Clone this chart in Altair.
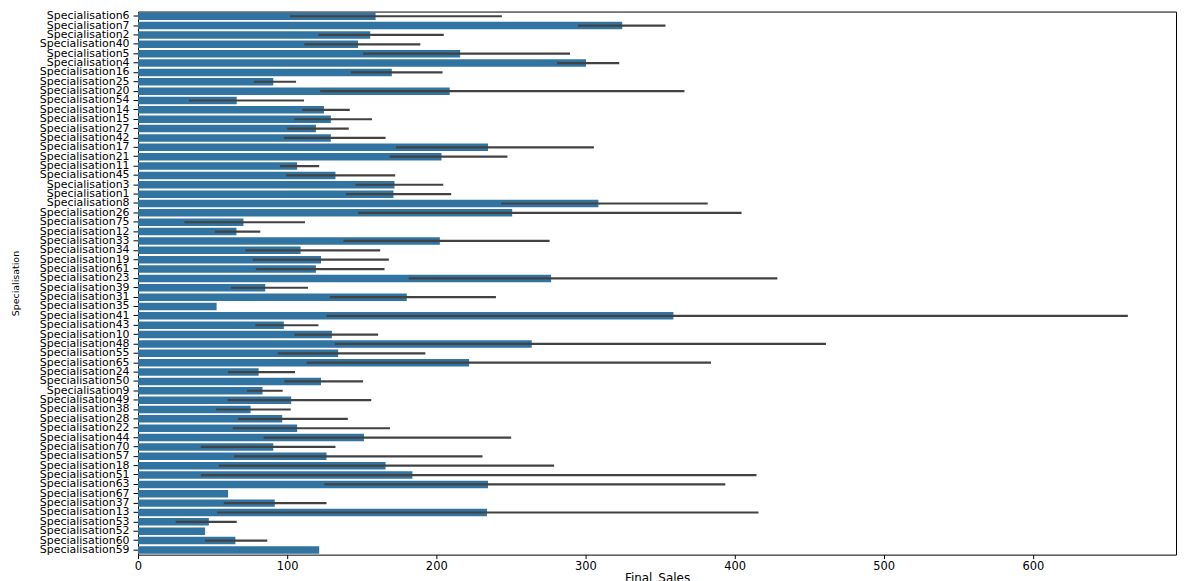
import altair as alt
import pandas as pd

categories = ["Specialisation6", "Specialisation7", "Specialisation2", "Specialisation40",
              "Specialisation5", "Specialisation4", "Specialisation16", "Specialisation25",
              "Specialisation20", "Specialisation54", "Specialisation14", "Specialisation15",
              "Specialisation27", "Specialisation42", "Specialisation17", "Specialisation21",
              "Specialisation11", "Specialisation45", "Specialisation3", "Specialisation1",
              "Specialisation8", "Specialisation26", "Specialisation75", "Specialisation12",
              "Specialisation33", "Specialisation34", "Specialisation19", "Specialisation61",
              "Specialisation23", "Specialisation39", "Specialisation31", "Specialisation35",
              "Specialisation41", "Specialisation43", "Specialisation10", "Specialisation48",
              "Specialisation55", "Specialisation65", "Specialisation24", "Specialisation50",
              "Specialisation9", "Specialisation49", "Specialisation38", "Specialisation28",
              "Specialisation22", "Specialisation44", "Specialisation70", "Specialisation57",
              "Specialisation18", "Specialisation51", "Specialisation63", "Specialisation67",
              "Specialisation37", "Specialisation13", "Specialisation53", "Specialisation52",
              "Specialisation60", "Specialisation59"]

mean_sales = [159.3, 324.7, 155.7, 147.5, 216.0, 300.4, 170.2, 90.7,
              209.0, 66.2, 124.7, 129.3, 119.3, 129.3, 234.7, 203.5,
              106.7, 132.4, 172.0, 171.3, 308.7, 250.9, 70.7, 66.0,
              202.4, 109.0, 122.7, 119.3, 277.0, 85.3, 180.2, 52.7,
              359.0, 97.8, 130.0, 264.0, 134.2, 222.0, 80.9, 122.7,
              83.5, 102.7, 75.5, 96.7, 106.7, 151.5, 90.7, 126.4,
              166.0, 184.0, 234.7, 60.4, 91.7, 234.0, 47.5, 45.0,
              65.3, 121.5]

ci_low = [102.0, 295.0, 121.0, 111.5, 151.0, 281.0, 142.7, 77.8,
          122.2, 34.2, 110.2, 104.9, 100.0, 98.0, 173.0, 168.7,
          95.3, 99.3, 145.8, 139.3, 243.5, 147.5, 31.1, 51.5,
          137.8, 72.0, 76.9, 79.0, 181.5, 62.4, 128.7, None,
          126.4, 78.7, 104.9, 132.0, 93.7, 113.0, 60.4, 98.2,
          73.0, 60.0, 52.4, 67.0, 63.5, 84.2, 42.2, 64.4,
          54.2, 42.2, 124.9, None, 57.5, 53.0, 25.3, None,
          44.9, None]

ci_high = [244.0, 353.7, 205.0, 189.3, 289.7, 322.7, 204.2, 106.0,
           366.4, 111.3, 142.0, 156.9, 141.3, 166.0, 305.7, 247.7,
           121.5, 172.4, 204.7, 210.0, 382.0, 404.7, 112.0, 82.0,
           276.0, 162.4, 168.2, 165.3, 428.7, 114.0, 240.0, None,
           663.7, 121.0, 161.0, 461.3, 192.7, 384.2, 105.3, 150.9,
           97.0, 156.4, 102.4, 140.7, 169.0, 250.2, 132.4, 231.0,
           279.0, 414.7, 393.8, None, 126.4, 416.0, 66.2, None,
           86.7, None]

x_ticks = [0, 100, 200, 300, 400, 500, 600]

bars_df = pd.DataFrame({"Specialisation": categories, "Final_Sales": mean_sales})
err_df = pd.DataFrame({"Specialisation": categories, "low": ci_low, "high": ci_high}).dropna()

W, H = 1043.6, 546

y_enc = alt.Y("Specialisation:N", sort=categories,
              scale=alt.Scale(paddingInner=0.2, paddingOuter=0.1),
              axis=alt.Axis(title="Specialisation", titleFontSize=9.5, titleFontWeight="normal",
                            titleColor="black", titleFont="DejaVu Sans",
                            titleX=-122.7, titleY=H / 2, titleAlign="center",
                            titleBaseline="middle", titleAngle=270,
                            labelFontSize=11, labelFont="DejaVu Sans", labelColor="black",
                            labelOverlap=False, tickSize=5, labelPadding=4,
                            tickColor="black", tickWidth=1, domain=False, grid=False))

x_scale = alt.Scale(domain=[0, 696], nice=False, zero=True)

bars = alt.Chart(bars_df).mark_bar(color="#3274a1").encode(
    y=y_enc,
    x=alt.X("Final_Sales:Q", scale=x_scale,
            axis=alt.Axis(title="Final_Sales", values=x_ticks, format="d",
                          titleFontSize=12, titleFontWeight="normal", titleColor="black",
                          titleFont="DejaVu Sans", titlePadding=1,
                          labelFontSize=11.5, labelFont="DejaVu Sans", labelColor="black",
                          labelFlush=False, tickSize=4, labelPadding=2,
                          tickColor="black", tickWidth=1, domain=False, grid=False)),
)

errs = alt.Chart(err_df).mark_rule(color="#424242", strokeWidth=2.2).encode(
    y=alt.Y("Specialisation:N", sort=categories),
    x=alt.X("low:Q", scale=x_scale),
    x2="high:Q",
)

chart = alt.layer(bars, errs).properties(
    width=W, height=H,
    autosize=alt.AutoSizeParams(type="none"),
    padding={"left": 130.7, "top": 2, "right": 1, "bottom": 36},
).configure_view(stroke="black", strokeWidth=1)

chart.save("out.html", embed_options={"renderer": "svg", "actions": False})
